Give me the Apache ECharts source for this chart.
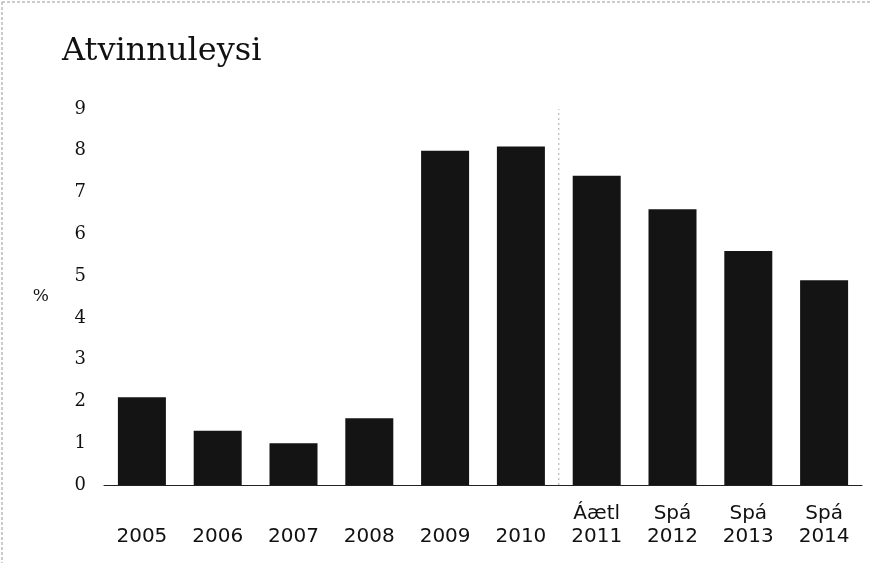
<!DOCTYPE html>
<html>
<head>
<meta charset="utf-8">
<script src="https://cdn.jsdelivr.net/npm/echarts@6/dist/echarts.min.js"></script>
<style>html,body{margin:0;padding:0;background:#fff}#c{width:872px;height:565px}</style>
</head>
<body>
<div id="c"></div>
<script>
var years = ["2005","2006","2007","2008","2009","2010","2011","2012","2013","2014"];
var prefixes = ["","","","","","","Áætl","Spá","Spá","Spá"];
var unemployment = [2.1, 1.3, 1.0, 1.6, 8.0, 8.1, 7.4, 6.6, 5.6, 4.9];
var yTicks = [0,1,2,3,4,5,6,7,8,9];
// boundary between actual (2005-2010) and estimate/forecast (2011-2014), in category-band units
var dividerAt = [6];

var chart = echarts.init(document.getElementById('c'));
chart.setOption({
  backgroundColor: '#fff',
  animation: false,
  title: {
    text: 'Atvinnuleysi',
    left: 62, top: 36, padding: 0,
    textStyle: { fontFamily: 'DejaVu Serif', fontSize: 32, fontWeight: 'normal', color: '#111' }
  },
  graphic: [
    { type: 'line', shape: { x1: 2, y1: 2, x2: 870, y2: 2 }, style: { stroke: '#999', lineWidth: 1, lineDash: [3, 2] } },
    { type: 'line', shape: { x1: 2, y1: 2, x2: 2, y2: 563 }, style: { stroke: '#999', lineWidth: 1, lineDash: [3, 2] } }
  ],
  grid: { left: 104, right: 10, top: 109, bottom: 80 },
  xAxis: [{
    type: 'category',
    data: years.map(function (y, i) { return prefixes[i] + '\n' + y; }),
    axisLine: { lineStyle: { color: '#222', width: 1 } },
    axisTick: { show: false },
    axisLabel: {
      margin: 17, interval: 0,
      fontFamily: 'DejaVu Sans', fontSize: 20, color: '#111', lineHeight: 23
    },
    splitLine: { show: false }
  }, {
    type: 'value', min: 0, max: years.length, show: false
  }],
  yAxis: {
    type: 'value', min: 0, max: 9, interval: 1,
    name: '%', nameLocation: 'middle', nameRotate: 0, nameGap: 55,
    nameTextStyle: { fontFamily: 'DejaVu Serif', fontSize: 17, color: '#111' },
    axisLine: { show: false }, axisTick: { show: false }, splitLine: { show: false },
    axisLabel: {
      margin: 18, fontFamily: 'DejaVu Serif', fontSize: 18, color: '#111',
      formatter: function (v) { return yTicks.indexOf(v) >= 0 ? String(v) : ''; }
    }
  },
  series: [{
    type: 'bar',
    data: unemployment,
    barWidth: 48,
    itemStyle: { color: '#141414' }
  }, {
    type: 'line',
    xAxisIndex: 1,
    data: [[dividerAt[0], 0], [dividerAt[0], 9]],
    symbol: 'none',
    silent: true,
    lineStyle: { color: '#aaa', width: 1, type: [2, 3] },
    z: 1
  }]
});
</script>
</body>
</html>
